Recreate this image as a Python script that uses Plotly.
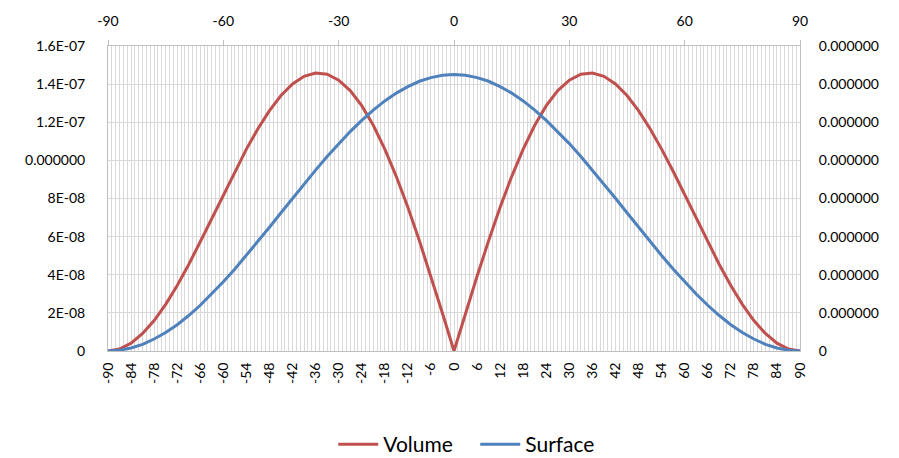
import plotly.graph_objects as go

# Angle categories (degrees), sampled every 3 degrees
angles = [-90, -87, -84, -81, -78, -75, -72, -69, -66, -63, -60, -57, -54, -51, -48, -45,
          -42, -39, -36, -33, -30, -27, -24, -21, -18, -15, -12, -9, -6, -3, 0,
          3, 6, 9, 12, 15, 18, 21, 24, 27, 30, 33, 36, 39, 42, 45,
          48, 51, 54, 57, 60, 63, 66, 69, 72, 75, 78, 81, 84, 87, 90]

# Values, in units of 1E-08
volume_e8 = [0.00, 0.10, 0.41, 0.92, 1.60, 2.45, 3.44, 4.54, 5.73, 6.96, 8.21, 9.43, 10.59, 11.66, 12.61, 13.40,
             14.01, 14.41, 14.58, 14.52, 14.21, 13.66, 12.87, 11.84, 10.59, 9.15, 7.54, 5.78, 3.92, 1.98, 0.00,
             1.98, 3.92, 5.78, 7.54, 9.15, 10.59, 11.84, 12.87, 13.66, 14.21, 14.52, 14.58, 14.41, 14.01, 13.40,
             12.61, 11.66, 10.59, 9.43, 8.21, 6.96, 5.73, 4.54, 3.44, 2.45, 1.60, 0.92, 0.41, 0.10, 0.00]
surface_e8 = [0.00, 0.04, 0.16, 0.35, 0.63, 0.97, 1.38, 1.86, 2.40, 2.99, 3.63, 4.30, 5.01, 5.74, 6.49, 7.25,
              8.01, 8.76, 9.49, 10.20, 10.88, 11.51, 12.10, 12.64, 13.12, 13.53, 13.87, 14.15, 14.34, 14.46, 14.50,
              14.46, 14.34, 14.15, 13.87, 13.53, 13.12, 12.64, 12.10, 11.51, 10.88, 10.20, 9.49, 8.76, 8.01, 7.25,
              6.49, 5.74, 5.01, 4.30, 3.63, 2.99, 2.40, 1.86, 1.38, 0.97, 0.63, 0.35, 0.16, 0.04, 0.00]

volume = [v * 1e-8 for v in volume_e8]
surface = [v * 1e-8 for v in surface_e8]

bottom_ticks = list(range(-90, 91, 6))
top_ticks = [-90, -60, -30, 0, 30, 60, 90]
y_ticks = [0, 2e-8, 4e-8, 6e-8, 8e-8, 1e-7, 1.2e-7, 1.4e-7, 1.6e-7]
y_left_labels = ["0", "2E-08", "4E-08", "6E-08", "8E-08", "0.000000", "1.2E-07", "1.4E-07", "1.6E-07"]
y_right_labels = ["0"] + ["0.000000"] * 8

FONT = "Lato, Open Sans, sans-serif"
GRID = "#d9d9d9"
AXIS = "#bfbfbf"
CLEAR = "rgba(0,0,0,0)"

fig = go.Figure()
fig.add_trace(go.Scatter(x=angles, y=volume, name="Volume", mode="lines",
                         line=dict(color="#C0504D", width=3)))
fig.add_trace(go.Scatter(x=angles, y=surface, name="Surface", mode="lines",
                         line=dict(color="#4F81BD", width=3)))
# helper trace so the secondary axes get drawn
fig.add_trace(go.Scatter(x=[angles[0], angles[-1]], y=[0, 0], xaxis="x2", yaxis="y2",
                         mode="lines", line=dict(width=0), showlegend=False, hoverinfo="skip"))

# figure slightly taller than the window (overflow hidden) so the legend sits lower
fig.update_layout(
    width=899, height=465,
    margin=dict(l=108, r=99, t=46, b=114),
    paper_bgcolor="white", plot_bgcolor="white",
    font=dict(family=FONT, size=14, color="#000000"),
    showlegend=True,
    legend=dict(orientation="h", x=0.3255, xanchor="left", xref="paper",
                y=0.0, yanchor="bottom", yref="container",
                font=dict(size=21), traceorder="normal", entrywidth=87, itemwidth=40),
    xaxis=dict(range=[-90, 90], tickmode="array", tickvals=bottom_ticks,
               ticktext=[str(t) for t in bottom_ticks], tickangle=-90,
               showgrid=True, gridcolor=GRID, gridwidth=1,
               minor=dict(dtick=1, tick0=-90, showgrid=True, gridcolor=GRID, gridwidth=1),
               showline=True, linecolor=AXIS, linewidth=1, mirror=False,
               zeroline=False, ticks="outside", ticklen=5, tickcolor=CLEAR, automargin=False),
    xaxis2=dict(range=[-90, 90], overlaying="x", side="top", tickmode="array",
                tickvals=top_ticks, ticktext=[str(t) for t in top_ticks],
                showgrid=False, zeroline=False, showline=True, linecolor=AXIS, linewidth=1,
                ticks="outside", ticklen=5, tickcolor=AXIS, ticklabelstandoff=8,
                automargin=False),
    yaxis=dict(range=[0, 1.6e-7], tickmode="array", tickvals=y_ticks, ticktext=y_left_labels,
               showgrid=True, gridcolor=GRID, gridwidth=1, zeroline=False,
               showline=True, linecolor=AXIS, linewidth=1,
               ticks="outside", ticklen=19, tickcolor=CLEAR, automargin=False),
    yaxis2=dict(range=[0, 1.6e-7], overlaying="y", side="right", tickmode="array",
                tickvals=y_ticks, ticktext=y_right_labels, showgrid=False, zeroline=False,
                showline=True, linecolor=AXIS, linewidth=1,
                ticks="outside", ticklen=15, tickcolor=CLEAR, automargin=False),
)

# remove the default page margin so the figure sits at the window origin
fig.write_html("out.html", config={"displayModeBar": False},
               post_script="document.body.style.margin='0';document.body.style.overflow='hidden';")
